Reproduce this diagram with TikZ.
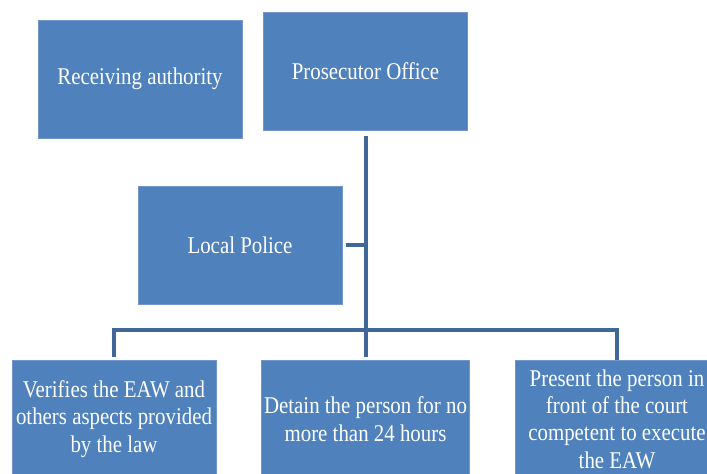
\documentclass[tikz,border=0pt]{standalone}
\usepackage{fontspec}
\setmainfont{Liberation Serif}[FakeStretch=0.87]
\definecolor{boxblue}{HTML}{4F81BD}
\definecolor{boxedge}{HTML}{7397CB}
\definecolor{linkblue}{HTML}{3F6799}
\tikzset{
  orgbox/.style={rectangle, fill=boxblue, draw=boxedge, line width=0.5pt,
    minimum width=153pt, minimum height=88.5pt, inner sep=2pt,
    text=white, align=center, font=\fontsize{18}{20.5}\selectfont},
  orglink/.style={draw=linkblue, line width=3pt}
}
\begin{document}
\begin{tikzpicture}[x=0.75pt,y=-0.75pt]
		\useasboundingbox (0,0) rectangle (707,474);
		\clip (0,0) rectangle (707,474);
		% top row
		\node[orgbox] (recv) at (140,79) {Receiving authority};
		\node[orgbox] (prosec) at (365.5,71) {Prosecutor Office};
		\node[orgbox] (police) at (240,245) {Local Police};
		% bottom row
		\node[orgbox] (verify) at (114,419) {Verifies the EAW and\\others aspects provided\\by the law};
		\node[orgbox] (detain) at (365.5,419) {Detain the person for no\\more than 24 hours};
		\node[orgbox] (present) at (617,419) {Present the person in\\front of the court\\competent to execute\\the EAW};
		% connectors
		\coordinate (hub) at (365.5,330);
		\draw[orglink, shorten <=4pt] (prosec.south) -- (hub);
		\draw[orglink, shorten <=2.5pt] (police.east) -- (police.east -| hub);
		\draw[orglink, shorten <=2pt] (verify.north) |- (hub) -| (present.north);
		\draw[orglink, shorten <=2pt] (detain.north) -- (hub);
	\end{tikzpicture}
\end{document}
